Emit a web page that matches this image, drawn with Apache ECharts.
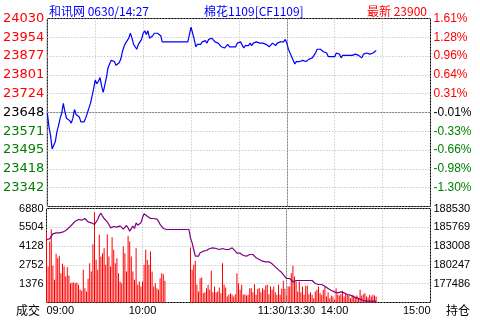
<!DOCTYPE html>
<html><head><meta charset="utf-8">
<script src="https://cdn.jsdelivr.net/npm/echarts@6/dist/echarts.min.js"></script>
<style>html,body{margin:0;padding:0;background:#fff}#c{width:480px;height:320px}</style>
</head><body><div id="c"></div>
<script>
// ---- tick labels ----
const priceTickLabels = ['24030','23954','23877','23801','23724','23648','23571','23495','23418','23342',''];
const pctTickLabels = ['1.61%','1.28%','0.96%','0.64%','0.31%','-0.01%','-0.33%','-0.66%','-0.98%','-1.30%',''];
const volTickLabels = ['6880','5504','4128','2752','1376',''];
const oiTickLabels = ['188530','185769','183008','180247','177486',''];
const timeTickValues = [0,60,150,180,240];
const timeTickLabels = ['09:00','10:00','11:30/13:30','14:00','15:00'];
const headerLeft = '和讯网 0630/14:27';
const headerMid = '棉花1109[CF1109]';
const headerRight = '最新 23900';
const prevClose = 23648;
const priceMax = 24030, priceMin = 23266;
const oiMax = 188530, oiMin = 174725;
const volMax = 6880, volStep = 1376;
const breakMinute = 150; // 11:30 / 13:30 joint (minutes after 09:00 on the axis)

// ---- per-minute series (index = minutes after 09:00, lunch joined) ----
const price = [
23645,23590,23555,23500,23500,23530,23570,23595,23625,23645,
23685,23650,23625,23620,23615,23605,23625,23660,23640,23640,
23630,23610,23610,23610,23625,23645,23665,23685,23715,23745,
23780,23765,23775,23790,23755,23730,23760,23790,23830,23835,
23860,23865,23855,23840,23840,23850,23865,23895,23915,23930,
23940,23950,23970,23950,23925,23915,23905,23925,23930,23945,
23970,23980,23965,23980,23950,23945,23960,23970,23975,23970,
23970,23960,23935,23935,23935,23935,23935,23935,23935,23935,
23935,23935,23935,23935,23935,23935,23935,23935,23935,23935,
23995,23970,23945,23915,23925,23930,23925,23935,23935,23940,
23930,23945,23950,23950,23945,23935,23930,23930,23925,23915,
23910,23910,23915,23925,23915,23920,23915,23920,23915,23930,
23935,23935,23930,23910,23920,23925,23920,23930,23920,23930,
23935,23935,23930,23930,23930,23930,23930,23925,23920,23915,
23920,23930,23925,23920,23930,23930,23935,23930,23935,23945,
23930,23905,23890,23885,23860,23845,23855,23860,23855,23855,
23860,23855,23855,23860,23865,23870,23870,23870,23890,23905,
23905,23905,23905,23895,23890,23890,23875,23870,23875,23870,
23875,23890,23890,23885,23870,23880,23880,23880,23880,23880,
23880,23880,23880,23885,23885,23880,23875,23870,23885,23885,
23890,23890,23885,23885,23890,23895,23900];

const volume = [
5124,2635,4465,5368,2684,1659,3562,3245,3416,2147,
2830,2635,1903,2586,1976,1415,1464,1464,1415,1464,
1293,927,854,2391,1049,805,1732,2879,2269,4270,
6612,3123,2391,4953,3367,3611,3977,2757,5002,3367,
2635,4782,3855,2879,3245,2147,1537,1415,4099,3611,
2269,4880,4465,3367,2269,1659,3977,1293,1537,1171,
1537,2757,3855,3123,2757,3733,2269,1171,1415,1049,
927,1781,2147,2074,1586,null,null,null,null,null,
null,null,null,null,null,null,null,null,null,null,
4026,2391,2757,3050,1293,805,1781,1830,683,756,
1049,1293,927,2318,756,1171,732,805,1098,683,
2879,1293,1098,439,561,683,561,439,610,2147,
1415,927,1293,561,610,512,561,1049,1049,756,
1342,561,1000,1049,756,1049,927,1244,1293,610,
1171,927,1171,756,561,1293,561,1000,1586,1000,
561,1171,1171,2147,2684,1903,1537,805,1537,756,
1171,561,1220,1220,610,756,561,317,805,927,
1171,683,561,927,1171,439,756,317,512,439,
195,1049,561,512,610,854,439,683,561,512,
317,561,512,366,512,317,927,512,610,683,
439,366,561,439,561,512,439];

const openInterest = [
183977,183977,184075,184467,184810,184908,184957,184957,184957,185103,
185054,185201,185299,185544,185691,185936,186181,186425,186670,186817,
186915,186915,186817,186915,187062,186817,186572,186425,186425,186572,
186181,186181,186915,187502,187845,187404,187062,186915,186572,186181,
185691,185789,185887,185789,185789,185887,185985,185789,185495,185593,
186034,185691,185201,185446,185936,185593,186425,186083,186278,186425,
187160,187747,187551,187404,187258,187062,187258,187062,187160,186964,
186670,186181,185887,185593,185446,185446,185446,185446,185446,185446,
185446,185446,185446,185446,185446,185446,185446,185446,185446,185446,
184222,183488,182508,181529,181284,181529,182019,182166,182264,182264,
182362,182508,182655,182851,182753,182851,182655,182508,182508,182508,
182655,182655,182508,182508,182508,182753,182753,182508,182264,181970,
181970,181970,181774,181627,181529,181529,181627,181774,182019,181774,
181529,181284,181284,181040,180942,180795,180795,180697,180697,180697,
180599,180403,180158,179963,179718,179522,179375,179130,178885,178543,
178249,178249,178249,178102,177759,177955,177955,177955,177955,177955,
177955,177955,177955,177955,177955,177955,177955,177759,177514,177368,
177368,177466,177368,177270,177123,176976,176780,176633,176487,176388,
176290,176144,176144,176144,176290,176290,176144,176046,175899,175899,
175801,175654,175556,175409,175409,175311,175213,175115,175018,174920,
174920,174920,174920,174920,174920,174920,174920];

// ---- build ----
const toPairs = arr => arr.map((v, i) => [i, v]);
const smallFont = 'Liberation Sans';
const bigFont = 'DejaVu Sans';
const cjkFont = 'Noto Sans CJK SC';
const dotted = { color: '#b4b4b4', width: 1, type: [1, 2] };

function richStyle(size, fam) {
  return {
    r: { color: '#ff0000', fontSize: size, fontFamily: fam },
    k: { color: '#000000', fontSize: size, fontFamily: fam },
    g: { color: '#008000', fontSize: size, fontFamily: fam }
  };
}
function colored(labels) {
  return v => {
    const i = 10 - Math.round(v);
    const t = labels[i];
    if (!t) return '';
    const k = i < 5 ? 'r' : (i === 5 ? 'k' : 'g');
    return '{' + k + '|' + t + '}';
  };
}

const chart = echarts.init(document.getElementById('c'), null, { renderer: 'canvas' });
chart.setOption({
  animation: false,
  backgroundColor: '#ffffff',
  grid: [
    { left: 46.5, top: 18.5, width: 384, height: 188, show: true, borderColor: '#000', borderWidth: 1, backgroundColor: 'transparent' },
    { left: 46.5, top: 208.5, width: 384, height: 94, show: true, borderColor: '#000', borderWidth: 1, backgroundColor: 'transparent' }
  ],
  xAxis: [
    { type: 'value', gridIndex: 0, min: 0, max: 240, interval: 30,
      axisLine: { show: false }, axisTick: { show: false }, axisLabel: { show: false },
      splitLine: { show: true, lineStyle: dotted } },
    { type: 'value', gridIndex: 1, min: 0, max: 240, interval: 30,
      axisLine: { show: false }, axisTick: { show: false },
      axisLabel: { show: true, margin: 3, color: '#000', fontSize: 11, fontFamily: smallFont,
        alignMinLabel: 'left', alignMaxLabel: 'right', showMinLabel: true, showMaxLabel: true,
        formatter: v => { const k = timeTickValues.indexOf(Math.round(v)); return k < 0 ? '' : timeTickLabels[k]; } },
      splitLine: { show: true, lineStyle: dotted } }
  ],
  yAxis: [
    { type: 'value', gridIndex: 0, position: 'left', min: 0, max: 10, interval: 1,
      axisLine: { show: false }, axisTick: { show: false },
      axisLabel: { margin: 3, formatter: colored(priceTickLabels), rich: richStyle(13, bigFont) },
      splitLine: { show: true, lineStyle: dotted } },
    { type: 'value', gridIndex: 0, position: 'right', min: 0, max: 10, interval: 1,
      axisLine: { show: false }, axisTick: { show: false },
      axisLabel: { margin: 3, formatter: colored(pctTickLabels), rich: richStyle(12, smallFont) },
      splitLine: { show: false } },
    { type: 'value', gridIndex: 0, min: priceMin, max: priceMax, show: false, splitLine: { show: false } },
    { type: 'value', gridIndex: 1, position: 'left', min: 0, max: volMax, interval: volStep,
      axisLine: { show: false }, axisTick: { show: false },
      axisLabel: { margin: 3, color: '#000', fontSize: 11, fontFamily: smallFont,
        formatter: v => { const i = Math.round((volMax - v) / volStep); return volTickLabels[i] || ''; } },
      splitLine: { show: true, lineStyle: dotted } },
    { type: 'value', gridIndex: 1, position: 'right', min: 0, max: 5, interval: 1,
      axisLine: { show: false }, axisTick: { show: false },
      axisLabel: { margin: 3, color: '#000', fontSize: 11, fontFamily: smallFont,
        formatter: v => oiTickLabels[5 - Math.round(v)] || '' },
      splitLine: { show: false } },
    { type: 'value', gridIndex: 1, min: oiMin, max: oiMax, show: false, splitLine: { show: false } }
  ],
  series: [
    { type: 'line', xAxisIndex: 0, yAxisIndex: 2, data: toPairs(price), showSymbol: false, symbol: 'none',
      lineStyle: { color: '#0000ff', width: 1.2 }, z: 5,
      markLine: { silent: true, symbol: 'none', label: { show: false }, animation: false,
        lineStyle: { color: '#808080', width: 1, type: [2, 1] },
        data: [{ yAxis: prevClose }, { xAxis: breakMinute }] } },
    { type: 'bar', xAxisIndex: 1, yAxisIndex: 3, data: toPairs(volume), barWidth: 1,
      itemStyle: { color: '#ff0000' }, z: 3,
      markLine: { silent: true, symbol: 'none', label: { show: false }, animation: false,
        lineStyle: { color: '#808080', width: 1, type: [2, 1] },
        data: [{ xAxis: breakMinute }] } },
    { type: 'line', xAxisIndex: 1, yAxisIndex: 5, data: toPairs(openInterest), showSymbol: false, symbol: 'none',
      lineStyle: { color: '#800080', width: 1.2 }, z: 6 }
  ],
  graphic: [
    { type: 'text', x: 49, y: 11, style: { text: headerLeft, fill: '#0000ff', font: '12px "' + cjkFont + '"', verticalAlign: 'middle' } },
    { type: 'text', x: 204, y: 11, style: { text: headerMid, fill: '#0000ff', font: '12px "' + cjkFont + '"', verticalAlign: 'middle' } },
    { type: 'text', x: 367, y: 11, style: { text: headerRight, fill: '#ff0000', font: '12px "' + cjkFont + '"', verticalAlign: 'middle' } },
    { type: 'text', x: 16, y: 310, style: { text: '成交', fill: '#000', font: '12px "' + cjkFont + '"', verticalAlign: 'middle' } },
    { type: 'text', x: 446, y: 310, style: { text: '持仓', fill: '#000', font: '12px "' + cjkFont + '"', verticalAlign: 'middle' } }
  ]
});
</script></body></html>
